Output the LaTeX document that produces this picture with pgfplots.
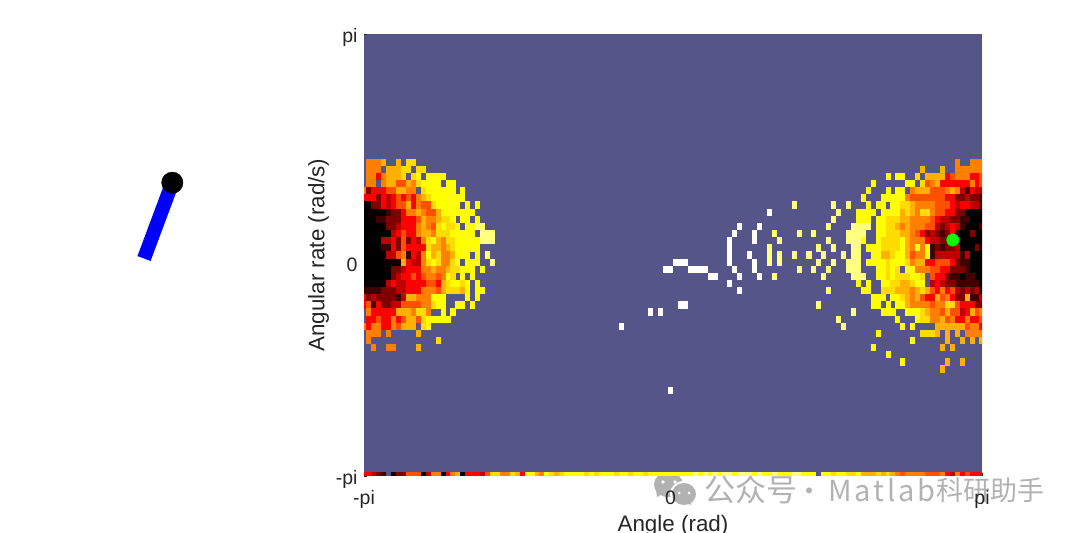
\documentclass[border=0pt]{standalone}
\usepackage{fontspec}
\usepackage{pgfplots}
\pgfplotsset{compat=1.18}
\setmainfont{Liberation Sans}
\newfontfamily\cjk{Noto Sans CJK SC}
\definecolor{bgblue}{RGB}{85,85,138}
\definecolor{labelgray}{RGB}{38,38,38}
\definecolor{wmgray}{RGB}{178,178,178}
\pgfdeclareplotmark{cell}{\pgfpathrectangle{\pgfpoint{-2.54pt}{-3.63pt}}{\pgfpoint{5.08pt}{7.26pt}}\pgfusepathqfill}
\pgfplotsset{heatcells/.style={scatter, only marks, mark=cell, point meta=explicit}}
\begin{document}
\begin{tikzpicture}
\useasboundingbox (0,0) rectangle (1080pt,533pt);
% pendulum
\begin{axis}[at={(172.3pt,350.3pt)}, anchor=center, scale only axis, width=194.4pt, height=194.4pt,
  xmin=-1.2, xmax=1.2, ymin=-1.2, ymax=1.2, hide axis, clip=false]
\addplot[blue, line width=14pt, forget plot] coordinates {(0,0) (-0.349,-0.936)};
\addplot[only marks, mark=*, mark size=10.7pt, black, forget plot] coordinates {(0,0)};
\end{axis}
% watermark
\fill[wmgray] (668.5pt,48.5pt) ellipse (14.5pt and 12.5pt);
\fill[wmgray] (657pt,36pt) -- (664pt,40pt) -- (656pt,43pt) -- cycle;
\fill[white] (684pt,39pt) ellipse (14pt and 13pt);
\fill[wmgray] (684pt,39pt) ellipse (12pt and 11pt);
\fill[wmgray] (691pt,28pt) -- (691pt,34pt) -- (685pt,31pt) -- cycle;
\fill[white] (663pt,51pt) circle (1.8pt);
\fill[white] (675pt,51pt) circle (1.8pt);
\fill[white] (679pt,40pt) circle (1.5pt);
\fill[white] (689pt,40pt) circle (1.5pt);
\node[anchor=west, inner sep=0pt, text=wmgray] at (704pt,43pt) {\cjk\fontsize{31}{31}\selectfont 公众号};
\node[anchor=center, inner sep=0pt, text=wmgray] at (809pt,38pt) {\cjk\fontsize{28}{28}\selectfont ·};
\node[anchor=west, inner sep=0pt, text=wmgray] at (828pt,43pt) {\cjk\addfontfeature{LetterSpace=10}\fontsize{29}{29}\selectfont Matlab};
\node[anchor=east, inner sep=0pt, text=wmgray] at (1045pt,43pt) {\cjk\fontsize{27}{27}\selectfont 科研助手};
% value map
\begin{axis}[at={(364pt,57pt)}, anchor=south west, scale only axis, width=618pt, height=442pt,
  xmin=0, xmax=125, ymin=0, ymax=62,
  axis background/.style={fill=bgblue}, axis line style={draw=none},
  clip marker paths=true,
  colormap={hotcells}{rgb255=(0,0,0) rgb255=(64,0,0) rgb255=(128,0,0) rgb255=(192,0,0) rgb255=(255,0,0) rgb255=(255,80,0) rgb255=(255,128,0) rgb255=(255,176,0) rgb255=(255,220,0) rgb255=(255,255,0) rgb255=(255,255,128) rgb255=(255,255,255)},
  point meta min=0, point meta max=11,
  xtick={0,62,125}, xticklabels={-pi,0,pi},
  ytick={0,30,62}, yticklabels={-pi,0,pi},
  tick align=inside, tick pos=left, major tick length=3pt,
  tick style={draw=labelgray, line width=0.5pt},
  ticklabel style={font=\fontsize{19.5}{19.5}\selectfont, text=labelgray},
  xticklabel style={yshift=-11pt},
  yticklabel style={xshift=-3pt, yshift=-3pt},
  xlabel={Angle (rad)}, ylabel={Angular rate (rad/s)},
  label style={font=\fontsize{22.4}{22.4}\selectfont, text=labelgray},
  xlabel shift=0pt, ylabel shift=0pt]
\addplot[heatcells] table[x=c, y=r, meta=v] {
c r v
1 44 6
2 44 6
3 44 6
4 44 7
7 44 7
9 44 8
10 44 8
1 43 6
2 43 6
3 43 6
5 43 7
6 43 7
7 43 7
8 43 8
9 43 8
11 43 8
12 43 8
1 42 6
2 42 6
3 42 4
4 42 6
5 42 7
6 42 7
7 42 7
8 42 8
10 42 8
11 42 9
13 42 9
14 42 9
15 42 9
16 42 9
1 41 6
2 41 6
4 41 6
5 41 7
6 41 7
7 41 5
8 41 5
9 41 7
10 41 6
11 41 8
12 41 9
13 41 9
14 41 9
15 41 9
17 41 9
18 41 9
0 40 6
1 40 2
2 40 4
3 40 4
4 40 4
5 40 5
6 40 5
7 40 7
8 40 7
9 40 6
10 40 6
12 40 8
13 40 9
14 40 9
15 40 9
16 40 9
17 40 9
18 40 9
20 40 9
0 39 4
1 39 4
2 39 4
3 39 2
4 39 4
5 39 3
6 39 4
7 39 5
8 39 4
9 39 5
10 39 4
11 39 6
12 39 7
13 39 8
14 39 9
15 39 9
16 39 9
17 39 9
18 39 9
19 39 9
20 39 9
0 38 0
1 38 0
2 38 2
3 38 2
4 38 4
5 38 3
6 38 4
7 38 5
8 38 5
9 38 7
10 38 4
11 38 6
12 38 5
13 38 5
14 38 8
15 38 9
16 38 9
17 38 9
18 38 9
19 38 9
21 38 9
23 38 9
0 37 0
1 37 0
2 37 0
3 37 0
4 37 0
5 37 1
6 37 2
7 37 2
8 37 4
9 37 6
10 37 6
11 37 7
12 37 6
13 37 5
14 37 5
15 37 7
16 37 9
17 37 9
18 37 9
19 37 9
20 37 9
21 37 9
22 37 9
0 36 0
1 36 0
2 36 0
3 36 1
4 36 1
5 36 2
6 36 2
7 36 2
8 36 4
9 36 4
10 36 4
11 36 5
12 36 7
13 36 6
14 36 6
15 36 7
16 36 8
17 36 8
18 36 9
20 36 9
21 36 9
23 36 9
0 35 0
1 35 0
2 35 0
3 35 0
4 35 0
5 35 2
6 35 2
7 35 3
8 35 4
9 35 4
10 35 4
11 35 6
12 35 7
13 35 6
14 35 5
15 35 8
16 35 9
17 35 8
18 35 8
19 35 9
21 35 9
22 35 9
23 35 10
24 35 10
0 34 0
1 34 0
2 34 0
3 34 0
4 34 0
5 34 0
6 34 3
7 34 4
8 34 5
9 34 4
10 34 4
11 34 6
12 34 7
13 34 7
14 34 6
15 34 8
16 34 8
17 34 8
18 34 9
19 34 9
20 34 9
21 34 9
22 34 9
24 34 10
25 34 10
26 34 10
0 33 0
1 33 0
2 33 0
3 33 0
4 33 3
5 33 3
6 33 4
7 33 2
8 33 5
9 33 2
10 33 4
11 33 3
12 33 6
13 33 8
14 33 9
15 33 7
16 33 6
17 33 8
18 33 8
19 33 9
20 33 9
21 33 9
22 33 9
23 33 9
24 33 10
25 33 10
26 33 10
0 32 0
1 32 0
2 32 0
3 32 0
4 32 1
5 32 1
6 32 4
7 32 2
8 32 5
9 32 4
10 32 4
11 32 4
12 32 4
13 32 8
14 32 7
15 32 7
16 32 6
17 32 7
18 32 8
19 32 9
20 32 9
21 32 9
22 32 9
23 32 9
0 31 0
1 31 0
2 31 0
3 31 0
4 31 0
5 31 3
6 31 3
7 31 5
8 31 6
9 31 1
10 31 4
11 31 3
12 31 6
13 31 9
14 31 7
15 31 8
16 31 6
17 31 6
18 31 7
19 31 9
20 31 9
21 31 9
23 31 9
25 31 10
0 30 0
1 30 0
2 30 0
3 30 0
4 30 0
5 30 0
6 30 0
7 30 0
8 30 7
9 30 4
10 30 3
11 30 3
12 30 6
13 30 8
14 30 9
15 30 8
16 30 6
17 30 6
18 30 8
19 30 9
21 30 9
22 30 9
23 30 9
26 30 10
0 29 0
1 29 0
2 29 0
3 29 0
4 29 0
5 29 0
6 29 2
7 29 2
8 29 3
9 29 4
10 29 4
11 29 4
12 29 6
13 29 6
14 29 7
15 29 6
16 29 6
17 29 7
18 29 8
19 29 8
20 29 9
21 29 9
22 29 9
24 29 9
0 28 0
1 28 0
2 28 0
3 28 0
4 28 0
5 28 0
6 28 2
7 28 3
8 28 4
9 28 4
10 28 5
11 28 4
12 28 5
13 28 6
14 28 6
15 28 5
16 28 6
17 28 9
18 28 8
20 28 9
22 28 9
0 27 0
1 27 0
2 27 0
3 27 0
4 27 0
5 27 3
6 27 4
7 27 3
8 27 3
9 27 4
10 27 4
11 27 4
12 27 4
13 27 5
14 27 5
15 27 4
16 27 7
17 27 8
18 27 9
19 27 9
20 27 8
21 27 9
23 27 9
0 26 1
1 26 1
2 26 1
3 26 1
4 26 2
5 26 2
6 26 2
7 26 3
8 26 3
9 26 4
10 26 4
11 26 4
12 26 6
13 26 6
14 26 6
15 26 5
16 26 7
17 26 8
18 26 8
19 26 8
20 26 7
21 26 9
23 26 9
24 26 9
0 25 4
1 25 2
2 25 3
3 25 2
4 25 2
5 25 2
6 25 2
7 25 1
8 25 3
9 25 7
10 25 7
11 25 6
12 25 6
13 25 6
14 25 9
15 25 9
16 25 9
21 25 9
23 25 9
0 24 4
1 24 5
2 24 1
3 24 4
4 24 2
5 24 2
6 24 3
7 24 3
8 24 5
9 24 5
10 24 5
11 24 5
12 24 6
13 24 6
14 24 8
15 24 9
16 24 9
19 24 9
20 24 9
22 24 9
1 23 6
2 23 4
3 23 4
4 23 4
5 23 4
6 23 4
7 23 7
8 23 7
9 23 7
10 23 6
11 23 8
12 23 8
13 23 6
16 23 9
18 23 9
1 22 4
2 22 4
3 22 5
4 22 4
5 22 4
6 22 6
7 22 4
8 22 5
9 22 7
10 22 7
11 22 5
12 22 8
13 22 9
14 22 9
15 22 9
16 22 9
17 22 9
0 21 6
1 21 4
2 21 6
3 21 6
4 21 4
5 21 4
6 21 6
7 21 5
8 21 7
9 21 7
10 21 7
12 21 8
13 21 9
1 20 6
2 20 6
3 20 6
5 20 6
11 20 7
1 19 6
15 19 8
2 18 6
5 18 6
6 18 6
11 18 7
};
\addplot[heatcells] table[x expr=125-\thisrow{d}, y=r, meta=v] {
d r v
5 44 6
2 44 6
1 44 6
0 44 6
12 43 7
8 43 7
5 43 6
4 43 6
3 43 6
2 43 6
1 43 6
0 43 6
19 42 9
17 42 9
16 42 9
13 42 8
11 42 7
10 42 7
9 42 7
8 42 7
7 42 4
6 42 5
5 42 6
4 42 6
3 42 6
2 42 4
1 42 4
0 42 5
22 41 9
15 41 9
14 41 9
12 41 8
11 41 5
10 41 6
9 41 7
8 41 4
7 41 4
6 41 4
5 41 4
4 41 4
3 41 4
2 41 6
1 41 4
0 41 5
23 40 9
19 40 9
17 40 9
16 40 9
14 40 6
13 40 7
12 40 7
11 40 7
10 40 5
9 40 5
8 40 5
7 40 6
6 40 7
5 40 6
4 40 3
3 40 1
2 40 4
1 40 3
0 40 3
24 39 9
20 39 9
19 39 9
18 39 9
17 39 9
16 39 9
15 39 6
14 39 5
13 39 5
12 39 5
11 39 5
10 39 5
9 39 5
8 39 5
7 39 4
6 39 4
5 39 2
4 39 2
3 39 3
2 39 2
1 39 2
0 39 1
30 38 10
27 38 10
23 38 9
21 38 9
20 38 9
18 38 9
17 38 9
16 38 8
15 38 8
14 38 7
13 38 6
12 38 6
11 38 6
10 38 6
9 38 5
8 38 5
7 38 5
6 38 4
5 38 3
4 38 4
3 38 4
2 38 3
1 38 3
0 38 1
29 37 10
25 37 9
24 37 9
23 37 9
22 37 9
20 37 9
19 37 9
18 37 9
17 37 9
16 37 7
15 37 8
14 37 7
13 37 6
12 37 8
11 37 8
10 37 6
9 37 5
8 37 5
7 37 4
6 37 4
5 37 2
4 37 2
3 37 0
2 37 0
1 37 0
0 37 0
30 36 10
25 36 9
24 36 9
23 36 9
21 36 9
20 36 9
19 36 8
18 36 8
17 36 8
16 36 7
15 36 7
14 36 6
13 36 6
12 36 6
11 36 6
10 36 5
9 36 4
8 36 3
7 36 3
6 36 2
5 36 2
4 36 1
3 36 1
2 36 0
1 36 0
0 36 0
31 35 10
26 35 10
25 35 10
24 35 10
23 35 10
21 35 9
20 35 9
19 35 8
18 35 8
17 35 7
16 35 6
15 35 7
14 35 6
13 35 6
12 35 6
11 35 5
10 35 5
9 35 3
8 35 2
7 35 3
6 35 4
5 35 3
4 35 1
3 35 0
2 35 0
1 35 0
0 35 1
27 34 10
26 34 10
25 34 10
24 34 10
21 34 9
20 34 9
19 34 8
18 34 8
17 34 8
16 34 7
15 34 7
14 34 6
13 34 5
12 34 4
11 34 2
10 34 3
9 34 2
8 34 1
7 34 2
6 34 4
5 34 1
4 34 0
3 34 0
2 34 2
1 34 0
0 34 0
31 33 10
27 33 10
26 33 10
25 33 10
24 33 9
21 33 9
20 33 8
19 33 8
18 33 8
17 33 8
16 33 9
15 33 7
14 33 6
13 33 6
12 33 6
11 33 4
10 33 3
9 33 3
8 33 2
7 33 2
6 33 3
5 33 1
4 33 0
3 33 0
2 33 0
1 33 0
0 33 0
30 32 10
26 32 10
25 32 10
23 32 9
22 32 9
21 32 9
20 32 8
19 32 8
18 32 8
17 32 8
16 32 9
15 32 7
14 32 6
13 32 9
12 32 6
11 32 9
10 32 1
9 32 2
8 32 1
7 32 2
6 32 2
5 32 3
4 32 0
3 32 0
2 32 0
1 32 2
0 32 0
28 31 10
26 31 10
25 31 10
22 31 9
21 31 9
20 31 7
19 31 7
18 31 8
17 31 9
16 31 9
15 31 7
14 31 5
13 31 6
12 31 6
11 31 9
10 31 1
9 31 3
8 31 3
7 31 3
6 31 3
5 31 3
4 31 1
3 31 3
2 31 0
1 31 0
0 31 0
30 30 10
27 30 10
26 30 10
25 30 10
23 30 9
22 30 9
21 30 9
20 30 9
19 30 8
18 30 9
17 30 9
16 30 9
15 30 8
14 30 6
13 30 7
12 30 7
11 30 4
10 30 4
9 30 5
8 30 5
7 30 5
6 30 4
5 30 2
4 30 1
3 30 1
2 30 0
1 30 0
0 30 0
31 29 10
27 29 10
26 29 10
25 29 10
21 29 9
20 29 9
19 29 8
18 29 9
17 29 8
15 29 9
14 29 9
13 29 6
12 29 6
11 29 6
10 29 5
9 29 5
8 29 4
7 29 4
6 29 2
5 29 2
4 29 2
3 29 1
2 29 0
1 29 0
0 29 0
32 28 10
26 28 10
25 28 10
24 28 10
21 28 9
20 28 9
19 28 8
18 28 9
17 28 8
16 28 8
15 28 8
14 28 9
13 28 9
12 28 8
10 28 5
9 28 4
8 28 4
7 28 2
6 28 1
5 28 1
4 28 0
3 28 1
2 28 1
1 28 0
0 28 0
25 27 9
23 27 9
20 27 9
19 27 9
18 27 8
17 27 8
16 27 7
15 27 7
14 27 8
13 27 9
12 27 9
10 27 3
9 27 4
8 27 3
7 27 2
6 27 2
5 27 1
4 27 1
3 27 1
2 27 1
1 27 1
0 27 0
31 26 10
24 26 9
23 26 9
20 26 8
19 26 8
18 26 8
17 26 7
16 26 7
15 26 7
14 26 6
13 26 7
12 26 8
11 26 7
10 26 5
9 26 4
8 26 6
7 26 4
6 26 5
5 26 3
4 26 2
3 26 3
2 26 2
1 26 3
0 26 0
22 25 9
21 25 9
20 25 9
18 25 9
17 25 9
16 25 8
15 25 7
14 25 6
13 25 7
12 25 5
11 25 4
10 25 4
9 25 7
8 25 5
7 25 6
6 25 4
5 25 2
4 25 2
3 25 7
2 25 1
1 25 1
0 25 3
33 24 10
22 24 9
21 24 9
19 24 9
17 24 9
16 24 9
15 24 7
14 24 6
13 24 6
12 24 6
11 24 6
10 24 5
9 24 6
8 24 6
7 24 8
6 24 8
5 24 5
4 24 4
3 24 4
2 24 4
1 24 2
0 24 2
26 23 10
20 23 9
19 23 9
18 23 9
15 23 9
14 23 9
13 23 9
12 23 8
11 23 7
10 23 6
9 23 6
8 23 5
7 23 7
6 23 5
5 23 5
4 23 3
3 23 4
2 23 7
1 23 5
0 23 6
29 22 10
17 22 9
13 22 9
12 22 8
11 22 8
10 22 6
9 22 6
8 22 7
7 22 5
6 22 6
5 22 4
4 22 4
3 22 6
2 22 4
1 22 4
0 22 5
28 21 10
16 21 9
14 21 9
9 21 7
8 21 7
7 21 7
6 21 7
5 21 7
4 21 7
3 21 5
2 21 6
1 21 6
0 21 4
21 20 9
12 20 8
11 20 8
10 20 8
9 20 7
7 20 7
5 20 7
3 20 6
2 20 6
1 20 6
0 20 6
14 19 9
7 19 7
4 19 7
2 19 7
0 19 7
22 18 9
8 18 7
6 18 7
19 17 9
16 16 9
7 16 7
4 16 7
8 15 7
};
% sparse cells between the two blocks
\addplot[heatcells] table[x=c, y=r, meta=v] {
c r v
87 38 10
82 37 11
76 35 11
80 35 11
75 34 11
79 34 11
83 34 10
88 34 10
91 34 10
79 33 11
84 33 10
74 33 11
74 32 11
74 31 11
74 30 11
82 32 10
82 31 10
82 30 10
84 31 10
84 30 10
92 32 10
78 31 11
87 31 10
90 31 10
93 31 10
92 30 10
79 30 11
79 29 11
75 29 11
88 29 10
91 29 10
76 28 11
80 28 11
83 28 10
63 30 11
64 30 11
65 30 11
61 29 11
62 29 11
66 29 11
67 29 11
68 29 11
69 29 11
70 28 11
71 28 11
74 27 11
76 26 11
64 24 11
65 24 11
58 23 11
60 23 11
52 21 11
62 12 11
};
% bottom row
\addplot[heatcells] table[x=c, y=r, meta=v] {
c r v
0 0 4
1 0 4
2 0 3
3 0 2
4 0 1
6 0 0
7 0 2
8 0 2
9 0 5
10 0 5
11 0 5
12 0 0
13 0 3
14 0 6
15 0 6
16 0 0
17 0 4
18 0 6
19 0 7
20 0 0
21 0 4
22 0 4
23 0 4
24 0 3
25 0 5
26 0 8
27 0 8
28 0 6
29 0 6
30 0 8
31 0 7
32 0 4
33 0 9
34 0 9
35 0 7
36 0 6
37 0 9
38 0 8
39 0 7
40 0 8
41 0 9
42 0 9
43 0 9
44 0 9
45 0 8
46 0 9
47 0 8
48 0 9
49 0 9
50 0 9
51 0 8
52 0 9
53 0 9
54 0 8
55 0 9
56 0 9
57 0 8
58 0 9
59 0 9
60 0 9
61 0 9
62 0 9
63 0 9
64 0 9
65 0 9
66 0 9
67 0 10
68 0 9
69 0 10
70 0 9
71 0 10
72 0 9
73 0 10
74 0 10
75 0 9
76 0 10
77 0 10
78 0 10
79 0 9
80 0 10
81 0 9
82 0 9
83 0 10
84 0 9
85 0 9
86 0 9
87 0 10
88 0 10
89 0 9
90 0 9
91 0 9
93 0 9
94 0 9
95 0 8
96 0 9
97 0 9
98 0 8
99 0 8
100 0 9
101 0 7
102 0 7
103 0 7
104 0 8
105 0 7
106 0 8
107 0 7
108 0 6
109 0 5
110 0 6
111 0 6
112 0 6
113 0 6
114 0 5
115 0 5
116 0 5
117 0 6
118 0 4
119 0 3
120 0 6
121 0 4
122 0 5
123 0 4
124 0 4
125 0 4
};
% current state
\addplot[only marks, mark=*, mark size=6.2pt, color={rgb,255:red,0;green,255;blue,0}] coordinates {(119.1,33.1)};
\end{axis}
\end{tikzpicture}
\end{document}
